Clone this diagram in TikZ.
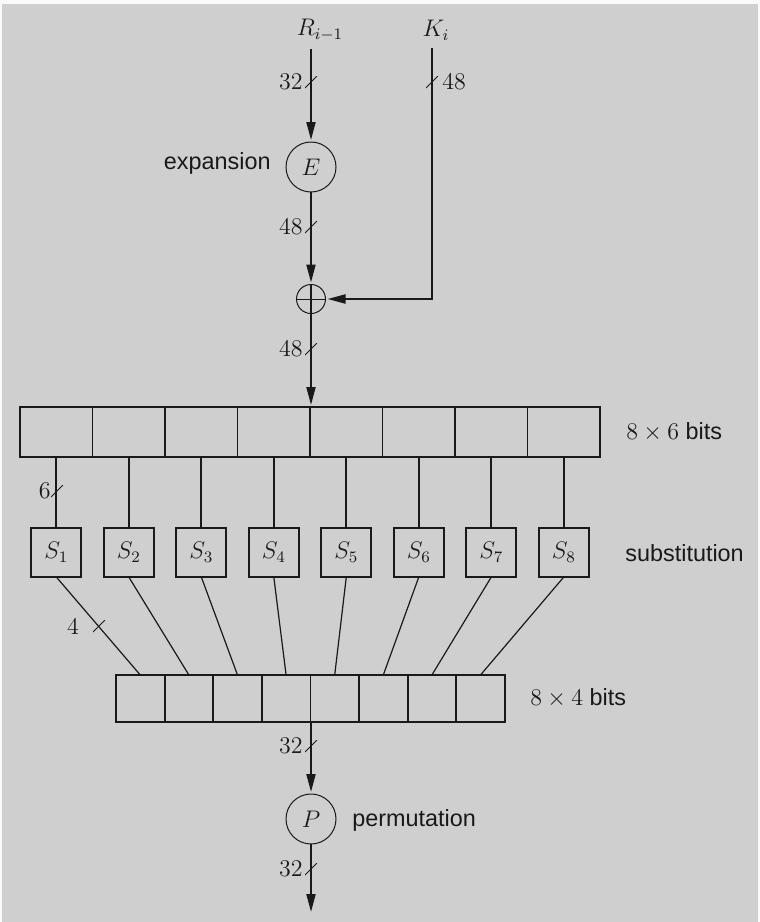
\documentclass[tikz,border=0pt,12pt]{standalone}
\usepackage{fontspec}
\setsansfont{Liberation Sans}
\usepackage{tikz}
\usetikzlibrary{arrows.meta, positioning, calc}
\definecolor{paperwhite}{RGB}{250, 250, 250}
\definecolor{bggray}{RGB}{207, 207, 207}
\definecolor{inkblack}{RGB}{25, 25, 25}

\tikzset{
    every node/.style={font=\sffamily\fontsize{11.7}{14}\selectfont, text=inkblack},
    wire/.style={draw=inkblack, line width=1pt},
    thinwire/.style={draw=inkblack, line width=0.6pt},
    arr/.style={wire, -{Triangle[length=9pt, width=4.5pt]}, shorten >=1pt},
    cell/.style={draw=inkblack, line width=0.9pt, minimum width=36.25pt, minimum height=25pt, inner sep=0pt, outer sep=0pt},
    sbox/.style={draw=inkblack, line width=0.9pt, minimum width=25pt, minimum height=24.5pt, inner sep=0pt, outer sep=0pt},
    lcell/.style={draw=inkblack, line width=0.9pt, minimum width=24.3pt, minimum height=23.5pt, inner sep=0pt, outer sep=0pt},
    op/.style={circle, draw=inkblack, line width=0.5pt, minimum size=25pt, inner sep=0pt, outer sep=0pt},
    slashmark/.style={minimum size=6pt, inner sep=0pt, outer sep=0pt,
        path picture={\draw[inkblack, line width=0.5pt] (path picture bounding box.south west) -- (path picture bounding box.north east);}},
}

\begin{document}
\begin{tikzpicture}[x=0.5pt, y=-0.5pt]
    % Background
    \useasboundingbox (0,0) rectangle (760,922);
    \fill[paperwhite] (0,0) rectangle (760,922);
    \fill[bggray] (2,4) rectangle (758,922);

    % Inputs
    \node (rin) at (320,30) {$R_{i-1}$};
    \node (kin) at (436,30) {$K_i$};

    % Expansion and key mixing
    \node[op] (E) at (311,167) {$E$};
    \node[anchor=east] (explbl) at (279,163) {expansion};
    \node[op, minimum size=14.5pt] (xor) at (311,299) {};
    \draw[line width=0.5pt, inkblack] (xor.west) -- (xor.east);
    \draw[wire] (xor.north) -- (xor.south);
    \coordinate (kturn) at (432,299);

    \draw[arr] (rin.south -| E.north) -- (E.north);
    \draw[arr] (E.south) -- (xor.north);
    \draw[arr] (kin.south -| kturn) -- (kturn) -- (xor.east);

    % 8 x 6 bits, S-boxes, 8 x 4 bits
    \foreach \i in {1,...,8} {
        \node[cell] (c\i) at ({56.3+72.5*(\i-1)},432) {};
        \node[sbox] (s\i) at ({56.3+72.5*(\i-1)},552.5) {$S_{\i}$};
        \node[lcell] (d\i) at ({140.3+48.6*(\i-1)},698.5) {};
    }
    \foreach \i in {1,...,8} {
        \draw[wire, line width=0.9pt] (c\i.south) -- (s\i.north);
        \draw[thinwire] (s\i.south) -- (d\i.north);
    }
    \draw[arr] (xor.south) -- (xor.south |- c1.north);

    \node[anchor=west] (toplbl) at (618,432) {$8\times6$ bits};
    \node[anchor=west] (sublbl) at (617,553) {substitution};
    \node[anchor=west] (botlbl) at (522,698) {$8\times4$ bits};

    % Permutation
    \node[op] (P) at (311,819) {$P$};
    \node[anchor=west] (permlbl) at (344,820) {permutation};
    \coordinate (pout) at (311,914);
    \draw[arr] (d1.south -| P.north) -- (P.north);
    \draw[arr] (P.south) -- (pout);

    % Bus widths
    \node[slashmark] (w1) at (311,82) {};
    \node[anchor=east, inner sep=1pt] at (w1.west) {$32$};
    \node[slashmark] (w2) at (432,82) {};
    \node[anchor=west, inner sep=2pt] at (w2.east) {$48$};
    \node[slashmark] (w3) at (311,227) {};
    \node[anchor=east, inner sep=1pt] at (w3.west) {$48$};
    \node[slashmark] (w4) at (311,349) {};
    \node[anchor=east, inner sep=1pt] at (w4.west) {$48$};
    \node[slashmark] (w5) at (57,491) {};
    \node[anchor=east, inner sep=0pt] at (w5.west) {$6$};
    \node[slashmark] (w6) at (99,626) {};
    \node at (73,627) {$4$};
    \node[slashmark] (w7) at (311,746) {};
    \node[anchor=east, inner sep=1pt] at (w7.west) {$32$};
    \node[slashmark] (w8) at (311,869) {};
    \node[anchor=east, inner sep=1pt] at (w8.west) {$32$};
\end{tikzpicture}
\end{document}
